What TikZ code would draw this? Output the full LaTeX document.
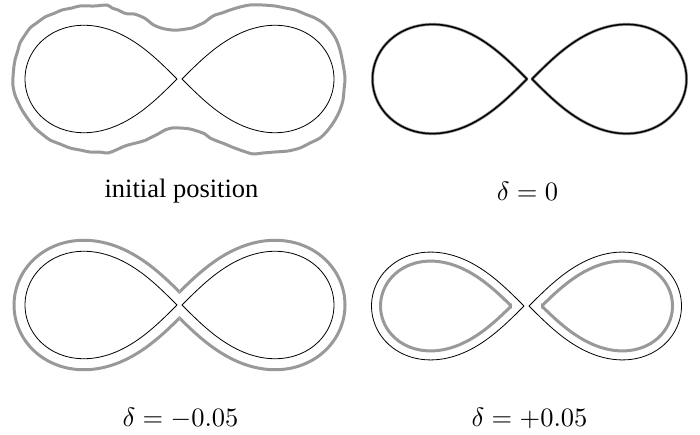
\documentclass[tikz,border=0pt]{standalone}
\usepackage{fontspec}
\setmainfont{Liberation Serif}
\begin{document}
\begin{tikzpicture}[x=1pt,y=-1pt,
  declare function={
    lemx(\t)=cos(\t)/(1+sin(\t)^2);
    lemy(\t)=sin(\t)*cos(\t)/(1+sin(\t)^2);
    lemp(\t)=cos(2*\t)*(1+sin(\t)^2)-2*(sin(\t)*cos(\t))^2;
    lemq(\t)=sin(\t)*(3-sin(\t)^2);
    lemn(\t)=sqrt(lemp(\t)^2+lemq(\t)^2);
  },
  blackcurve/.style={draw=black,line width=0.8pt,line join=round},
  graycurve/.style={draw=gray!80,line width=3pt,line join=round},
  lab/.style={anchor=base,inner sep=0pt,font=\fontsize{26.5}{30}\selectfont},
  mlab/.style={anchor=base,inner sep=0pt}]
\useasboundingbox (0,0) rectangle (700,435);

% lobe path: right lobe shifted by gap g, radius a, offset d
\newcommand{\lobepath}[3]{plot[domain=-90:90,samples=241,variable=\t]
  ({#2+#1*lemx(\t)+#3*lemp(\t)/lemn(\t)},{#1*lemy(\t)+#3*lemq(\t)/lemn(\t)})}
\newcommand{\bigmath}[1]{\scalebox{2.65}{$#1$}}

% ---------- panel 1: initial position ----------
\draw[graycurve] plot[smooth cycle,tension=0.5] coordinates {
 (13,77) (14,66) (15,60) (18,50) (20,43) (25,35) (30,28) (38,22) (45,17) (55,13) (62,10) (72,8) (80,6) (95,6) (107,5) (112,8) (118,10)
 (124,13) (128,14) (134,14) (140,16) (146,19) (152,24) (158,27) (165,29) (172,30) (179,30) (186,29) (192,28) (199,25) (205,22) (210,18) (215,15)
 (222,13) (230,10) (240,7) (250,5) (262,5) (275,6) (285,8) (295,10) (305,14) (315,18) (323,23) (330,30) (336,39) (340,50) (343,64) (345,78)
 (344,90) (343,100) (340,110) (335,120) (328,130) (320,138) (310,143) (300,148) (288,151) (275,152) (263,153) (253,154) (246,152) (240,150)
 (232,147) (225,144) (217,141) (210,138) (205,134) (200,132) (190,129) (180,128) (172,128) (165,130) (158,134) (152,137) (146,140) (140,142)
 (132,144) (125,146) (116,150) (108,153) (99,152) (90,152) (80,150) (70,148) (60,144) (50,140) (42,134) (35,128) (28,119) (22,110) (18,102) (15,95) (13,86)};
\begin{scope}[shift={(179.5,79)}]
  \draw[blackcurve] \lobepath{152}{2.5}{0} -- cycle;
  \draw[blackcurve,xscale=-1] \lobepath{152}{2.5}{0} -- cycle;
\end{scope}
\node[lab] (l1) at (181.5,198) {initial position};

% ---------- panel 2: delta = 0 ----------
\begin{scope}[shift={(529.5,79)}]
  \draw[graycurve,line width=3pt] \lobepath{154.5}{2.5}{0} -- cycle;
  \draw[graycurve,line width=3pt,xscale=-1] \lobepath{154.5}{2.5}{0} -- cycle;
  \draw[blackcurve,line width=1.5pt] \lobepath{154.5}{2.5}{0} -- cycle;
  \draw[blackcurve,line width=1.5pt,xscale=-1] \lobepath{154.5}{2.5}{0} -- cycle;
\end{scope}
\node[mlab] (l2) at (527.5,201) {\bigmath{\delta=0}};

% ---------- panel 3: delta = -0.05 ----------
\begin{scope}[shift={(179.5,305)}]
  \begin{scope}
    \clip (0,-100) rectangle (200,100);
    \draw[graycurve] \lobepath{152}{2.5}{11};
  \end{scope}
  \begin{scope}[xscale=-1]
    \clip (0,-100) rectangle (200,100);
    \draw[graycurve] \lobepath{152}{2.5}{11};
  \end{scope}
  \draw[blackcurve] \lobepath{152}{2.5}{0} -- cycle;
  \draw[blackcurve,xscale=-1] \lobepath{152}{2.5}{0} -- cycle;
\end{scope}
\node[mlab] (l3) at (180.5,426) {\bigmath{\delta=-0.05}};

% ---------- panel 4: delta = +0.05 ----------
\begin{scope}[shift={(526.5,306)}]
  \begin{scope}
    \clip (14.7,-100) rectangle (200,100);
    \draw[graycurve] \lobepath{152.5}{2.5}{-9};
  \end{scope}
  \begin{scope}[xscale=-1]
    \clip (14.7,-100) rectangle (200,100);
    \draw[graycurve] \lobepath{152.5}{2.5}{-9};
  \end{scope}
  \draw[blackcurve] \lobepath{152.5}{2.5}{0} -- cycle;
  \draw[blackcurve,xscale=-1] \lobepath{152.5}{2.5}{0} -- cycle;
\end{scope}
\node[mlab] (l4) at (529.5,426) {\bigmath{\delta=+0.05}};
\end{tikzpicture}
\end{document}
